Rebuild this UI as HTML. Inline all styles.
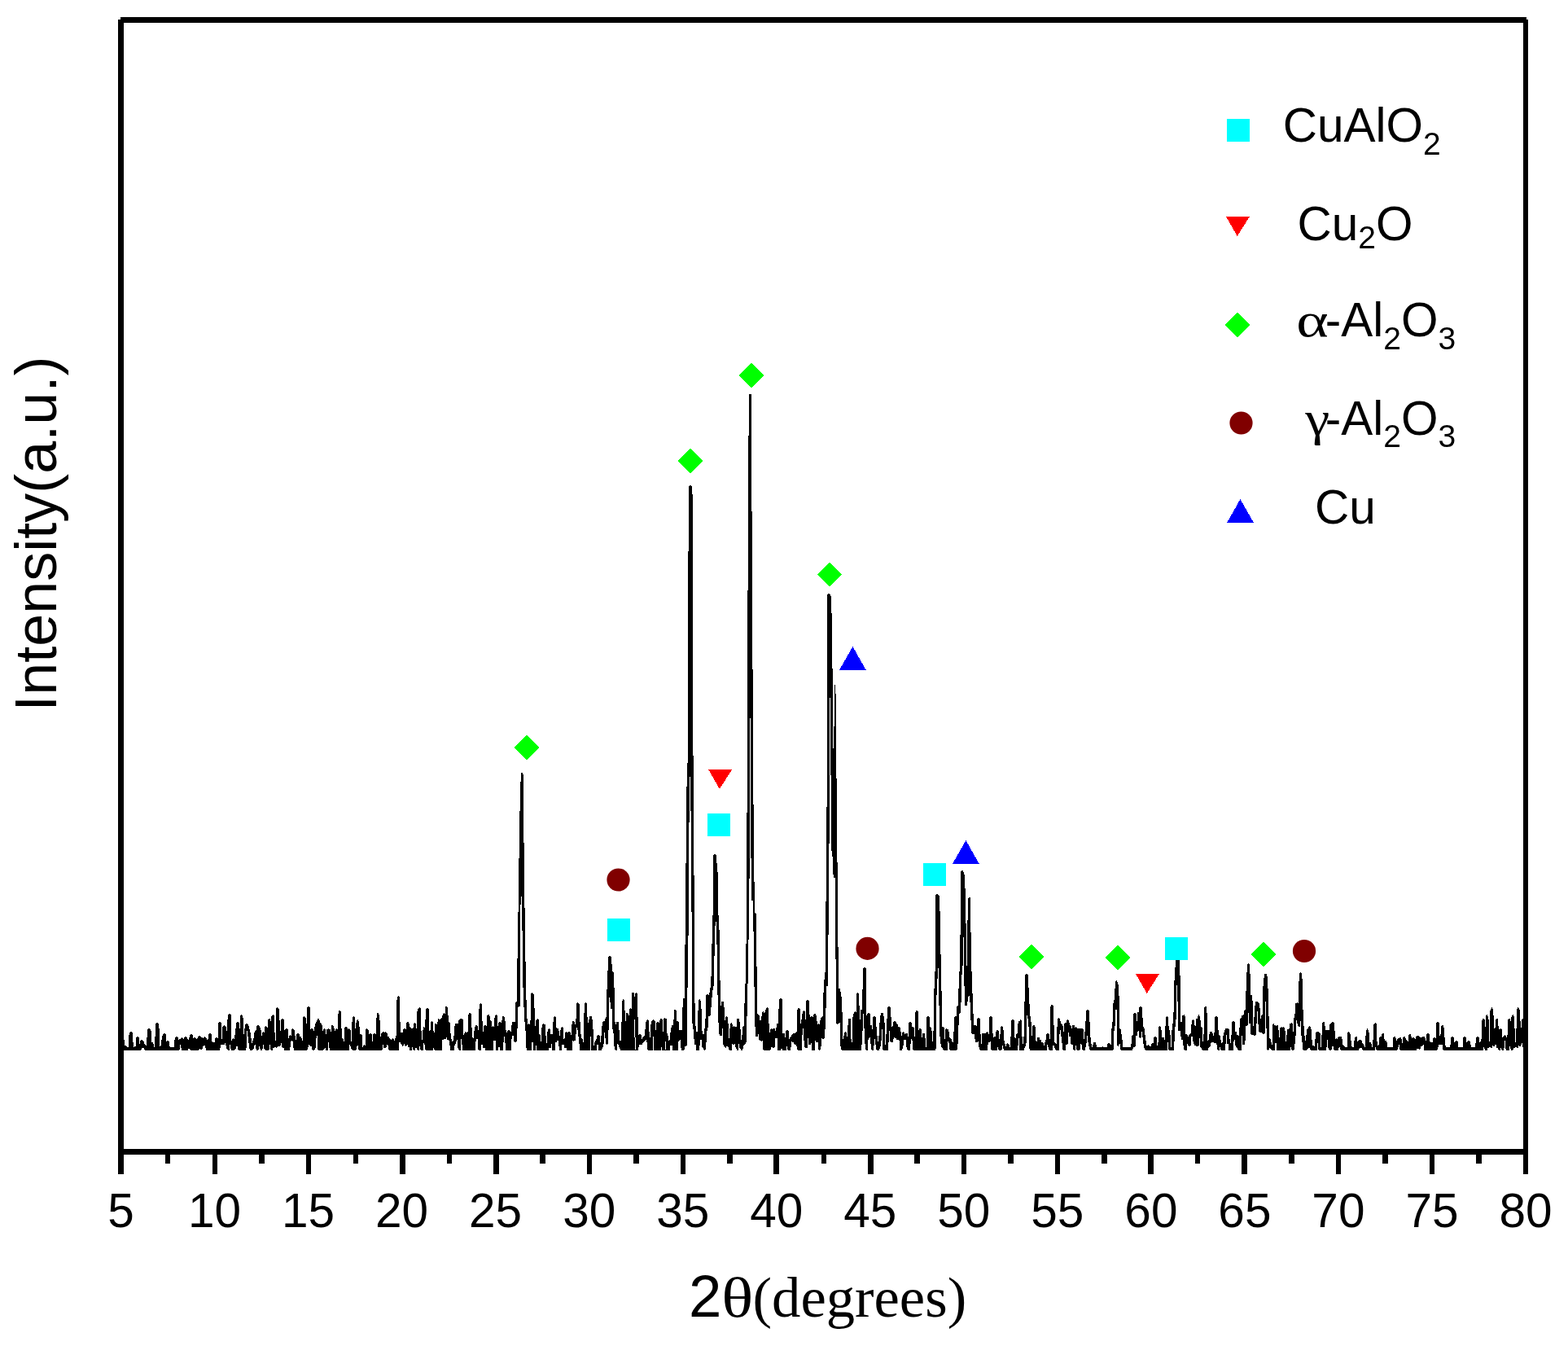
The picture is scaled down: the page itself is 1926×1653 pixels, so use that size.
<!DOCTYPE html>
<html lang="en"><head><meta charset="utf-8"><title>XRD pattern</title>
<style>html,body{margin:0;padding:0;background:#fff;}body{width:1926px;height:1653px;overflow:hidden;}svg{display:block;}text{font-family:"Liberation Sans",sans-serif;fill:#000;}.tk{font-size:58.5px;text-anchor:middle;}.lg{font-size:58.5px;}.sub{font-size:39px;}.sy{font-family:"Liberation Serif",serif;}</style></head><body>
<svg width="1926" height="1653" viewBox="0 0 1926 1653" shape-rendering="crispEdges">
<rect x="0" y="0" width="1926" height="1653" fill="#fff"/>
<path d="M149.3,1290.0L149.3,1277.0L152.8,1277.0L153.4,1284.2L155.0,1284.2L156.3,1286.0L157.9,1286.0L158.6,1268.5L160.0,1267.0L161.2,1267.0L162.6,1268.5L164.0,1286.0L166.5,1284.8L167.0,1274.5L168.4,1273.0L169.6,1273.0L171.0,1274.5L171.5,1282.0L172.3,1278.5L173.7,1277.0L174.9,1277.0L176.3,1278.5L177.4,1281.4L179.6,1284.2L181.4,1264.5L182.8,1263.0L184.0,1263.0L185.4,1264.5L186.4,1280.1L188.3,1280.4L189.3,1286.0L189.8,1286.0L191.3,1257.5L192.7,1256.0L193.9,1256.0L195.3,1257.5L196.3,1285.1L197.6,1284.2L198.9,1273.5L200.0,1270.5L201.4,1269.0L202.6,1269.0L203.9,1270.5L204.4,1278.9L204.9,1279.6L205.6,1278.1L206.8,1278.1L207.7,1279.6L208.2,1285.1L209.2,1286.0L214.1,1286.0L214.6,1274.6L216.0,1273.1L217.2,1273.1L218.6,1274.6L219.3,1276.8L221.5,1275.7L222.9,1274.2L224.1,1274.2L225.4,1275.7L225.9,1276.8L226.4,1274.6L227.3,1273.1L228.5,1273.1L229.9,1274.6L231.6,1277.2L233.0,1271.5L234.4,1270.0L235.6,1270.0L236.7,1271.5L237.2,1275.1L237.7,1275.6L238.5,1274.1L239.7,1274.1L241.1,1275.6L242.2,1275.6L243.3,1273.5L244.7,1272.0L245.9,1272.0L247.3,1273.5L248.7,1274.1L249.5,1274.6L250.9,1273.1L252.1,1273.1L253.5,1274.6L255.3,1278.3L256.1,1270.5L257.5,1269.0L258.7,1269.0L259.8,1270.5L260.3,1278.8L262.1,1279.9L263.8,1279.9L264.3,1275.6L265.3,1274.1L266.5,1274.1L267.1,1275.6L267.6,1274.8L268.1,1256.6L269.3,1255.1L270.5,1255.1L271.9,1256.6L272.4,1277.9L273.5,1260.6L274.9,1259.1L276.1,1259.1L277.5,1260.6L278.3,1268.8L279.9,1246.5L281.3,1245.0L282.5,1245.0L283.9,1246.5L284.5,1277.9L285.0,1276.6L285.8,1275.1L287.0,1275.1L287.2,1276.6L287.7,1276.0L288.9,1269.2L290.1,1256.6L291.5,1255.1L292.7,1255.1L293.9,1256.6L294.4,1267.9L294.9,1247.6L295.8,1246.1L297.0,1246.1L298.4,1247.6L299.4,1270.7L300.8,1261.4L301.3,1258.5L302.7,1257.0L303.9,1257.0L305.3,1258.5L305.8,1261.7L307.0,1265.4L307.9,1269.8L308.8,1277.3L309.5,1281.0L310.7,1277.6L311.8,1274.1L312.6,1267.0L314.5,1265.1L315.0,1260.6L316.4,1259.1L317.6,1259.1L319.0,1260.6L319.7,1262.3L320.6,1265.4L321.5,1272.0L322.0,1268.7L322.9,1267.2L324.1,1267.2L324.3,1268.7L324.8,1267.9L325.3,1261.6L325.7,1260.1L326.9,1260.1L328.1,1261.6L328.6,1262.0L329.1,1252.6L330.3,1251.1L331.5,1251.1L331.9,1252.6L332.4,1254.8L333.5,1247.6L334.9,1246.1L336.1,1246.1L337.0,1247.6L337.5,1267.9L338.5,1278.8L339.0,1238.6L339.9,1237.1L341.1,1237.1L342.5,1238.6L343.5,1253.3L344.6,1267.0L345.2,1252.6L346.6,1251.1L347.8,1251.1L349.0,1252.6L349.5,1265.1L350.0,1264.7L351.3,1263.2L352.5,1263.2L353.9,1264.7L354.5,1275.1L355.0,1272.5L355.8,1271.0L357.0,1271.0L357.5,1272.3L358.0,1264.7L358.9,1263.2L360.1,1263.2L361.5,1264.7L362.1,1268.2L363.4,1278.8L364.0,1270.7L365.4,1269.2L366.6,1269.2L367.9,1270.7L368.4,1272.9L370.3,1273.8L371.5,1278.8L372.0,1249.6L373.0,1248.1L374.2,1248.1L375.1,1249.6L375.6,1250.2L376.4,1262.9L376.9,1237.5L378.3,1236.0L379.5,1236.0L380.9,1237.5L381.5,1263.9L382.0,1264.6L382.5,1263.1L383.7,1263.1L384.9,1264.6L385.4,1267.0L386.8,1259.2L387.7,1256.1L389.3,1253.0L389.8,1252.6L390.4,1251.1L391.6,1251.1L392.5,1252.6L393.0,1255.8L394.6,1257.3L395.6,1259.2L396.4,1266.0L396.9,1264.6L397.9,1263.1L399.1,1263.1L400.0,1264.6L400.5,1269.8L401.4,1264.2L401.9,1264.6L402.9,1263.1L404.1,1263.1L405.3,1264.6L405.8,1264.2L406.6,1267.0L407.1,1260.6L407.5,1259.1L408.7,1259.1L409.3,1260.6L409.8,1260.1L410.6,1262.9L411.4,1267.0L411.9,1264.6L412.9,1263.1L414.1,1263.1L414.2,1264.6L414.7,1263.9L415.3,1246.1L415.8,1242.5L416.8,1241.0L418.0,1241.0L418.7,1242.5L419.2,1257.0L420.1,1274.8L421.7,1276.3L422.5,1278.8L423.0,1262.4L423.9,1260.9L425.1,1260.9L426.5,1262.4L427.3,1264.2L427.8,1264.6L427.9,1263.1L429.1,1263.1L430.2,1264.6L430.7,1265.4L431.5,1279.8L432.3,1259.2L432.8,1249.5L433.9,1248.0L435.1,1248.0L436.0,1249.5L436.5,1262.9L437.6,1255.1L438.1,1253.5L438.8,1252.0L440.0,1252.0L440.5,1253.5L441.0,1253.3L441.7,1263.2L442.2,1270.1L443.8,1270.4L444.9,1271.3L445.4,1286.0L445.9,1284.5L446.9,1283.0L448.1,1283.0L448.5,1284.1L449.2,1264.2L449.7,1264.6L449.9,1263.1L451.1,1263.1L452.3,1264.6L452.8,1265.4L453.5,1270.1L454.0,1270.5L454.4,1269.0L455.6,1269.0L456.2,1270.5L456.7,1270.1L457.5,1278.8L458.4,1270.1L458.9,1270.5L459.4,1269.0L460.6,1269.0L461.1,1270.5L461.6,1270.1L462.2,1257.0L462.7,1245.5L463.4,1244.0L464.6,1244.0L465.4,1245.5L465.9,1245.5L466.9,1258.3L467.5,1272.9L468.7,1268.8L469.5,1268.5L470.9,1267.0L472.1,1267.0L473.0,1268.5L473.0,1268.5L473.0,1267.0L474.1,1267.0L475.3,1268.5L475.8,1269.2L476.2,1272.9L477.8,1273.2L480.3,1277.9L480.8,1276.6L481.9,1275.1L483.1,1275.1L484.0,1276.6L484.5,1277.9L486.5,1272.9L487.3,1231.2L487.8,1224.6L488.9,1223.1L490.1,1223.1L490.8,1224.6L491.3,1251.1L492.1,1267.9L494.9,1267.9L495.4,1264.6L496.3,1263.1L497.5,1263.1L498.3,1264.6L498.8,1263.9L499.3,1256.5L500.4,1255.0L501.6,1255.0L502.5,1256.5L503.0,1260.7L505.8,1263.1L507.8,1262.0L508.3,1257.6L509.0,1256.1L510.2,1256.1L510.9,1257.6L511.4,1265.7L512.4,1242.4L513.5,1238.6L514.9,1237.1L516.1,1237.1L516.7,1238.6L517.2,1257.9L518.0,1276.9L519.1,1276.9L519.6,1262.6L520.0,1261.1L521.2,1261.1L521.8,1262.6L522.3,1261.7L522.8,1239.5L523.9,1238.0L525.1,1238.0L526.5,1239.5L527.0,1267.0L528.6,1264.8L529.1,1255.6L529.7,1254.1L530.9,1254.1L531.7,1255.6L532.2,1264.2L533.4,1270.7L533.9,1258.5L534.8,1257.0L536.0,1257.0L536.7,1258.5L537.2,1256.1L538.3,1251.1L540.4,1252.0L542.6,1249.8L544.1,1245.8L545.1,1244.1L546.8,1244.9L547.3,1237.5L547.6,1236.0L548.8,1236.0L549.9,1237.5L550.4,1246.1L551.1,1255.0L552.9,1256.3L553.5,1269.0L554.4,1276.0L555.5,1279.0L557.2,1277.1L558.2,1261.1L559.3,1257.0L562.8,1257.0L563.3,1253.1L565.3,1251.2L567.5,1251.2L568.9,1252.6L569.4,1270.9L570.2,1268.5L570.7,1268.5L571.0,1267.0L572.2,1267.0L572.3,1268.5L572.8,1267.9L575.0,1267.0L575.5,1245.5L576.4,1244.0L577.6,1244.0L578.7,1245.5L579.2,1256.1L580.2,1273.8L581.5,1275.1L582.3,1267.2L583.3,1261.1L583.8,1260.6L584.5,1259.1L585.7,1259.1L586.4,1260.6L586.9,1260.1L587.2,1265.1L588.0,1265.1L588.2,1239.1L589.2,1238.9L589.3,1233.0L589.9,1231.9L591.1,1231.9L591.5,1233.4L592.0,1233.3L592.1,1253.9L592.9,1254.2L593.1,1267.2L594.0,1267.2L594.3,1260.1L594.8,1260.4L595.3,1258.9L596.5,1258.9L597.3,1260.4L597.8,1260.1L598.2,1247.4L598.7,1247.5L599.0,1246.0L600.2,1246.0L601.3,1247.5L601.8,1248.0L602.0,1253.0L603.7,1254.2L604.0,1261.1L604.5,1261.4L604.8,1259.9L606.0,1259.9L606.3,1261.4L606.8,1261.1L607.1,1250.2L608.0,1249.8L608.2,1247.0L608.7,1247.5L608.9,1246.0L610.1,1246.0L610.3,1247.5L610.8,1247.4L611.0,1260.1L612.0,1260.1L612.2,1256.3L612.7,1256.5L613.4,1255.0L614.6,1255.0L615.3,1256.5L615.8,1256.1L616.1,1253.1L617.1,1253.0L617.2,1248.9L617.5,1248.0L618.7,1248.0L619.4,1249.5L619.9,1249.2L620.1,1254.1L620.8,1254.2L621.0,1265.1L621.9,1265.3L622.2,1268.0L623.0,1268.0L623.3,1266.0L623.8,1266.5L624.4,1265.0L625.6,1265.0L626.2,1266.5L626.7,1266.0L627.7,1267.2L628.1,1259.2L629.1,1258.9L629.2,1255.1L633.0,1255.1L633.1,1231.2L634.8,1229.9L635.1,1229.0L635.1,1200.0L636.0,1150.0L637.0,1090.0L638.0,1020.0L639.2,965.0L640.0,952.0L640.4,949.0L641.6,949.0L642.8,952.0L642.9,1003.0L643.8,1050.0L644.9,1150.0L645.9,1200.0L646.0,1228.0L646.9,1228.3L647.1,1251.1L647.8,1251.2L648.0,1257.9L648.5,1258.5L648.9,1257.0L650.1,1257.0L650.4,1258.5L650.9,1258.3L651.2,1253.1L652.0,1253.0L652.1,1220.1L652.6,1220.5L652.9,1219.0L654.1,1219.0L655.2,1220.5L655.7,1221.2L655.9,1237.9L656.6,1238.1L656.9,1260.1L657.9,1260.1L658.2,1253.1L659.1,1253.0L659.3,1252.0L659.8,1251.1L661.0,1251.1L661.3,1252.6L661.8,1252.3L662.1,1269.8L663.7,1271.3L664.0,1279.1L664.9,1279.1L665.2,1262.0L666.0,1261.9L666.2,1258.3L666.7,1258.5L666.9,1257.0L668.1,1257.0L669.2,1258.5L669.7,1258.3L670.0,1272.0L670.8,1272.3L671.1,1281.0L671.9,1281.0L672.2,1267.2L673.0,1267.0L673.3,1264.2L673.8,1264.6L673.9,1263.1L675.1,1263.1L675.3,1264.6L675.8,1264.2L676.1,1270.1L678.9,1270.1L679.2,1255.0L680.0,1254.8L680.2,1249.2L680.7,1249.5L681.0,1248.0L682.2,1248.0L682.3,1249.5L682.8,1249.2L683.1,1262.0L684.7,1263.2L685.8,1263.2L686.0,1266.0L686.9,1266.2L687.2,1272.3L688.0,1272.3L688.2,1265.1L689.0,1265.0L689.2,1262.2L689.7,1262.6L689.9,1261.1L691.1,1261.1L691.3,1262.6L691.8,1262.2L692.0,1276.0L693.1,1275.9L694.0,1274.8L694.2,1268.2L694.7,1268.5L695.0,1267.0L696.2,1267.0L696.7,1268.5L697.2,1267.9L697.7,1268.5L698.4,1267.0L699.6,1267.0L700.4,1268.5L700.9,1268.2L701.2,1271.0L702.0,1271.0L702.3,1258.3L703.1,1257.9L703.3,1254.8L703.7,1254.0L704.9,1254.0L705.2,1255.5L705.7,1255.1L706.0,1258.3L706.8,1258.3L707.1,1251.2L708.1,1251.1L708.3,1232.1L708.8,1232.5L708.9,1231.0L710.1,1231.0L711.3,1232.5L711.8,1233.3L712.0,1254.8L712.7,1255.1L713.1,1270.0L713.9,1270.2L714.2,1274.8L715.7,1276.1L716.0,1279.9L716.9,1279.9L717.1,1244.2L718.0,1243.9L718.2,1232.1L718.7,1232.5L718.9,1231.0L720.1,1231.0L720.3,1232.5L720.8,1232.1L721.0,1248.9L721.9,1249.2L722.1,1256.1L723.0,1256.1L723.3,1252.2L724.0,1252.0L724.1,1248.0L726.9,1248.0L727.2,1252.0L727.9,1252.3L728.1,1264.0L728.9,1264.2L729.1,1283.8L730.0,1284.1L730.3,1280.4L731.1,1278.2L733.0,1275.9L733.2,1272.1L733.7,1272.5L734.3,1271.0L735.5,1271.0L736.2,1272.5L736.7,1272.3L737.0,1279.9L737.9,1279.9L738.2,1272.3L739.0,1272.0L739.2,1260.1L740.0,1259.8L740.3,1255.1L741.1,1254.2L743.0,1254.1L743.1,1251.2L744.1,1249.8L744.8,1248.9L745.1,1215.0L746.1,1214.8L746.3,1214.0L746.3,1200.0L746.3,1192.0L747.0,1192.0L747.0,1175.2L748.2,1174.0L749.8,1174.0L751.0,1175.2L751.0,1184.0L752.0,1184.0L752.0,1193.0L753.0,1193.3L753.9,1194.5L753.9,1213.0L754.8,1213.3L755.1,1255.0L755.7,1255.1L756.0,1257.9L756.9,1257.9L757.2,1255.0L759.8,1255.0L760.1,1265.1L760.8,1265.3L761.2,1277.9L762.9,1277.9L763.2,1255.1L764.0,1255.0L764.1,1228.2L764.6,1228.6L764.9,1227.1L766.1,1227.1L766.3,1228.6L766.8,1228.3L767.1,1241.0L767.8,1241.1L768.1,1253.9L768.9,1253.9L769.3,1244.2L770.7,1244.1L771.6,1245.2L772.2,1247.0L772.9,1247.0L773.2,1239.1L773.7,1239.5L773.8,1238.0L775.0,1238.0L775.2,1239.1L776.0,1238.9L776.2,1219.2L778.7,1219.2L778.9,1224.0L779.9,1224.0L780.2,1220.1L780.7,1220.5L780.9,1219.0L782.1,1219.0L782.3,1220.5L782.8,1220.2L783.0,1248.9L783.9,1249.2L784.1,1271.0L785.0,1271.0L785.5,1270.1L786.7,1270.1L787.2,1271.6L787.7,1271.0L788.0,1276.0L788.8,1276.1L789.4,1274.1L791.9,1272.0L792.2,1264.2L792.9,1264.0L793.2,1255.1L793.9,1254.2L794.4,1253.5L794.9,1252.0L796.1,1252.0L796.2,1253.5L796.7,1253.3L797.0,1267.0L797.8,1267.2L798.1,1274.1L798.8,1274.1L799.0,1258.3L800.0,1257.9L800.3,1254.2L800.8,1253.5L801.9,1252.0L803.1,1252.0L804.1,1253.5L804.6,1254.2L805.0,1265.1L805.9,1265.1L806.2,1256.1L806.7,1256.5L807.2,1255.0L808.4,1255.0L809.2,1256.5L809.7,1256.1L810.0,1252.3L810.5,1252.6L811.2,1251.1L812.4,1251.1L813.2,1252.6L813.7,1252.3L814.0,1267.0L815.0,1267.0L815.3,1251.2L815.8,1251.5L815.9,1250.0L817.1,1250.0L818.2,1251.5L818.7,1251.2L819.0,1268.8L819.8,1269.2L820.1,1272.1L820.9,1272.3L821.2,1277.9L821.8,1277.9L822.9,1276.9L823.2,1268.2L824.0,1267.9L824.2,1262.2L824.9,1262.0L825.1,1259.2L826.9,1259.1L827.1,1252.0L828.0,1251.8L828.2,1240.2L829.6,1240.2L830.8,1241.1L831.0,1254.1L832.7,1254.2L834.0,1255.1L834.1,1265.1L837.9,1265.1L838.1,1237.3L838.9,1237.1L839.1,1226.2L841.0,1226.0L841.1,1225.0L841.1,1190.0L842.0,1125.0L843.2,975.0L844.4,942.0L845.2,905.0L845.2,678.0L846.3,676.0L846.3,598.0L847.0,596.0L848.4,596.0L849.6,597.5L849.8,606.0L851.0,607.0L851.0,927.0L851.9,928.0L851.9,1074.0L853.0,1075.0L853.0,1232.0L853.9,1232.3L854.1,1260.1L855.0,1260.3L855.1,1267.0L857.0,1267.0L857.2,1241.1L858.1,1240.8L858.3,1228.2L858.8,1228.6L858.9,1227.1L860.1,1227.1L860.4,1228.6L860.9,1228.3L861.1,1239.1L861.9,1239.4L862.1,1266.0L862.9,1266.2L863.2,1270.0L865.0,1270.0L865.2,1263.2L866.0,1262.9L866.2,1251.2L867.0,1251.0L867.2,1222.4L868.5,1221.2L869.8,1221.2L870.6,1222.1L871.2,1219.3L872.0,1219.0L872.1,1213.1L873.4,1213.0L873.4,1212.0L873.4,1199.0L874.1,1198.0L874.1,1159.0L875.2,1158.0L875.2,1124.0L876.2,1123.0L876.2,1051.0L877.2,1048.7L878.5,1048.7L879.8,1051.0L879.8,1059.0L880.8,1060.0L880.8,1070.0L881.9,1071.0L881.9,1123.0L882.8,1124.0L882.8,1141.0L883.8,1142.0L883.8,1204.0L884.9,1204.4L885.0,1235.2L886.0,1235.2L886.3,1230.2L888.8,1230.2L889.0,1237.2L889.8,1237.4L890.0,1253.1L891.0,1253.1L891.3,1249.2L891.8,1249.5L891.9,1248.0L893.1,1248.0L893.4,1249.5L893.9,1249.2L894.1,1257.0L894.8,1257.2L895.0,1275.1L896.0,1275.1L896.3,1263.2L897.0,1262.9L897.2,1257.2L897.7,1257.6L897.8,1256.1L899.0,1256.1L899.4,1257.6L899.9,1257.2L900.1,1261.1L900.9,1260.9L901.6,1260.1L902.5,1261.1L905.1,1261.1L905.3,1251.1L907.8,1251.1L908.1,1255.0L908.8,1255.3L909.0,1264.0L909.8,1264.2L910.0,1276.9L910.9,1276.9L911.2,1271.0L912.0,1270.8L912.1,1261.4L913.1,1260.7L913.9,1260.1L914.1,1232.3L915.0,1232.1L917.2,1126.0L917.2,998.0L918.1,997.0L918.1,725.0L919.2,724.0L919.2,535.0L920.1,534.0L920.1,484.0L923.0,484.0L923.0,628.0L924.0,629.0L924.0,822.0L925.0,823.0L925.0,988.0L926.0,989.0L926.0,1083.0L927.4,1084.0L927.4,1121.0L928.7,1122.0L928.7,1186.0L929.9,1187.0L929.9,1244.9L931.5,1246.4L932.7,1247.7L932.9,1252.0L934.0,1253.0L934.9,1253.0L935.1,1248.0L936.0,1247.7L936.2,1243.3L936.7,1243.6L937.1,1242.1L938.3,1242.1L938.5,1243.6L939.0,1243.0L939.9,1243.0L940.1,1240.4L941.0,1240.2L941.2,1238.3L941.7,1238.6L941.8,1237.1L943.0,1237.1L943.3,1238.6L943.8,1238.3L944.0,1257.0L944.8,1257.2L945.0,1267.9L946.0,1267.9L946.3,1264.2L946.8,1263.1L948.0,1263.1L948.3,1264.0L949.3,1263.1L951.7,1263.1L952.1,1266.0L952.9,1266.0L953.1,1262.0L953.9,1261.9L954.1,1257.2L955.0,1257.0L956.0,1256.1L956.1,1239.3L956.9,1238.9L957.2,1227.1L957.7,1227.4L958.3,1225.9L959.5,1225.9L960.3,1227.4L960.8,1227.4L961.0,1268.8L963.7,1269.0L964.0,1274.1L964.8,1274.1L965.1,1266.0L965.6,1266.5L966.2,1265.0L967.4,1265.0L968.2,1266.5L968.7,1266.2L968.9,1276.0L969.7,1276.0L971.4,1272.9L974.2,1269.0L976.7,1268.8L978.8,1267.0L979.0,1239.1L979.5,1239.5L980.3,1238.0L981.5,1238.0L982.3,1239.5L982.8,1239.3L983.0,1257.0L984.0,1257.0L984.1,1252.2L985.1,1252.0L985.3,1245.2L986.0,1245.0L986.2,1242.1L986.7,1242.5L986.8,1241.0L988.0,1241.0L988.3,1242.5L988.8,1242.4L989.0,1252.0L989.9,1252.0L990.1,1229.3L990.6,1229.5L991.3,1228.0L992.5,1228.0L993.3,1229.5L993.8,1229.3L994.0,1246.1L994.9,1246.2L995.0,1249.2L996.0,1248.2L997.7,1248.2L998.5,1249.2L999.1,1248.9L999.2,1246.1L999.7,1246.5L1000.4,1245.0L1001.6,1245.0L1002.5,1246.5L1003.0,1246.2L1003.1,1254.1L1003.9,1254.2L1004.1,1258.3L1004.7,1258.3L1005.3,1257.0L1006.3,1258.3L1006.9,1257.9L1007.1,1253.1L1007.9,1253.0L1008.1,1250.2L1009.7,1248.9L1010.9,1247.7L1011.1,1219.3L1012.0,1219.0L1012.2,1203.1L1013.0,1202.8L1013.1,1202.0L1013.1,1194.0L1014.2,1193.0L1014.2,1107.0L1015.3,1106.0L1015.3,991.0L1016.2,990.0L1016.2,731.0L1017.0,729.4L1018.4,729.4L1020.0,731.0L1020.7,733.0L1020.7,752.0L1021.8,753.0L1021.8,820.0L1022.8,821.0L1022.8,919.0L1024.2,919.0L1024.2,892.0L1025.2,891.0L1025.2,842.0L1026.4,839.8L1030.0,1214.0L1031.8,1214.2L1032.0,1218.1L1032.9,1218.3L1033.1,1224.0L1033.8,1224.2L1034.0,1243.0L1034.8,1243.2L1035.0,1276.0L1035.9,1276.0L1036.2,1272.3L1036.9,1272.0L1037.1,1268.2L1037.6,1268.5L1037.8,1267.0L1039.0,1267.0L1039.3,1268.5L1039.8,1268.2L1040.1,1272.9L1040.9,1272.9L1041.1,1259.2L1041.9,1258.9L1042.1,1251.1L1044.9,1251.1L1045.1,1275.9L1045.9,1276.1L1046.0,1279.9L1046.9,1279.9L1047.1,1249.2L1048.0,1248.9L1048.2,1245.2L1049.0,1244.9L1049.2,1243.3L1049.7,1243.6L1049.8,1242.1L1051.0,1242.1L1051.2,1243.0L1051.9,1243.0L1052.1,1220.2L1052.6,1220.5L1052.9,1219.0L1054.1,1219.0L1054.4,1220.5L1054.9,1220.2L1055.1,1235.2L1056.0,1235.4L1056.1,1252.0L1057.1,1252.0L1057.3,1240.2L1058.9,1240.0L1059.1,1215.1L1060.0,1215.0L1060.0,1200.0L1060.0,1189.5L1061.3,1188.0L1062.7,1188.0L1064.0,1189.5L1064.0,1200.0L1064.1,1247.0L1064.9,1247.0L1065.2,1245.2L1065.7,1245.5L1066.4,1244.0L1067.6,1244.0L1068.3,1245.5L1068.8,1245.2L1069.0,1259.1L1070.8,1259.2L1071.0,1264.0L1072.0,1264.0L1072.2,1249.2L1072.7,1249.5L1073.5,1248.0L1074.7,1248.0L1075.3,1249.5L1075.8,1249.2L1076.0,1261.1L1076.8,1261.2L1077.0,1272.1L1077.8,1272.3L1077.9,1279.1L1078.9,1279.1L1079.2,1272.3L1080.0,1272.0L1080.2,1256.1L1081.1,1255.9L1081.2,1247.2L1082.0,1247.0L1082.2,1244.1L1084.8,1244.1L1085.0,1248.0L1085.9,1248.2L1086.0,1256.1L1086.9,1256.3L1087.0,1282.9L1088.0,1282.9L1088.2,1270.1L1089.0,1269.9L1089.2,1251.1L1090.0,1251.0L1090.2,1237.2L1090.7,1237.5L1091.4,1236.0L1092.6,1236.0L1093.3,1237.5L1093.8,1237.3L1094.0,1249.2L1094.8,1249.4L1095.0,1261.1L1096.0,1260.9L1096.9,1260.0L1097.1,1255.1L1097.6,1255.5L1098.4,1254.0L1099.6,1254.0L1100.2,1255.5L1100.7,1255.1L1101.0,1257.0L1102.9,1258.3L1103.1,1261.1L1105.0,1261.4L1106.0,1262.3L1106.2,1267.0L1106.9,1267.2L1107.1,1272.1L1108.0,1272.1L1108.2,1268.2L1108.7,1268.5L1108.9,1267.0L1110.1,1267.0L1110.7,1268.2L1111.2,1270.0L1112.2,1269.0L1114.7,1269.0L1114.9,1272.9L1116.0,1272.9L1116.1,1256.3L1116.6,1256.5L1117.4,1255.0L1118.6,1255.0L1119.4,1256.5L1119.9,1256.4L1120.1,1261.1L1121.6,1261.2L1122.7,1262.2L1122.9,1272.9L1123.9,1272.9L1124.0,1242.4L1124.5,1242.5L1125.4,1241.0L1126.6,1241.0L1127.3,1242.5L1127.8,1242.4L1128.0,1264.0L1128.5,1264.6L1129.4,1263.1L1130.6,1263.1L1131.3,1264.6L1131.8,1264.2L1132.0,1274.0L1133.1,1274.0L1133.3,1269.0L1135.8,1269.0L1136.0,1275.1L1136.9,1275.3L1137.0,1286.0L1138.0,1286.0L1138.1,1249.2L1138.6,1249.5L1139.4,1248.0L1140.6,1248.0L1141.3,1249.5L1141.8,1249.2L1142.0,1261.1L1143.7,1262.3L1144.0,1266.0L1144.8,1266.2L1145.0,1279.1L1146.0,1279.1L1146.2,1266.2L1146.9,1265.9L1147.1,1214.2L1147.9,1214.0L1148.0,1213.0L1148.0,1194.0L1148.9,1193.0L1148.9,1100.0L1150.1,1097.9L1151.4,1097.9L1153.0,1099.5L1154.0,1101.0L1154.0,1119.0L1155.0,1120.0L1155.0,1172.0L1156.0,1173.0L1156.0,1216.0L1156.9,1217.1L1157.1,1261.1L1158.7,1261.1L1159.9,1262.3L1160.1,1276.0L1161.0,1276.0L1161.2,1264.2L1161.7,1264.6L1161.8,1263.1L1163.0,1263.1L1163.0,1264.0L1164.8,1264.0L1165.0,1267.0L1165.8,1267.2L1166.0,1274.0L1167.4,1275.1L1168.9,1276.3L1169.1,1279.1L1170.1,1279.9L1170.9,1279.9L1171.0,1267.2L1171.9,1267.0L1172.1,1249.2L1173.6,1248.1L1175.0,1248.0L1175.2,1236.1L1176.9,1234.9L1177.0,1214.2L1177.9,1214.0L1178.1,1213.0L1178.1,1193.0L1179.1,1192.0L1179.1,1148.0L1180.1,1147.0L1180.1,1070.5L1181.0,1068.9L1182.2,1068.9L1183.2,1070.5L1184.0,1073.0L1184.9,1075.0L1184.9,1090.0L1186.0,1091.0L1186.0,1134.0L1187.0,1135.0L1187.0,1186.0L1188.1,1186.0L1188.1,1130.0L1189.2,1129.0L1189.2,1103.5L1190.1,1101.9L1191.3,1101.9L1192.2,1103.5L1192.2,1145.0L1193.1,1146.0L1193.1,1193.0L1194.0,1194.0L1194.0,1219.0L1195.0,1220.2L1195.2,1245.0L1195.9,1245.2L1196.2,1259.1L1198.5,1259.1L1199.2,1260.1L1199.9,1260.1L1200.1,1251.2L1200.6,1251.5L1201.4,1250.0L1202.6,1250.0L1203.3,1251.5L1203.8,1251.2L1204.0,1270.1L1204.8,1270.3L1205.0,1281.9L1205.9,1281.9L1206.0,1269.0L1210.8,1269.0L1211.6,1267.9L1212.0,1267.0L1213.2,1267.0L1213.3,1268.5L1213.8,1268.2L1214.1,1270.1L1215.0,1270.1L1215.2,1249.2L1215.7,1249.5L1216.4,1248.0L1217.6,1248.0L1218.4,1249.5L1218.9,1249.2L1219.1,1269.0L1219.8,1269.2L1220.0,1274.0L1220.8,1274.0L1221.3,1273.0L1222.8,1273.0L1223.0,1266.2L1223.5,1266.6L1224.3,1265.1L1225.5,1265.1L1226.3,1266.6L1226.8,1266.2L1226.9,1276.0L1227.8,1276.0L1228.1,1270.1L1228.9,1269.9L1229.1,1261.2L1229.6,1261.5L1229.8,1260.0L1231.0,1260.0L1231.2,1261.5L1231.7,1261.2L1231.9,1265.1L1232.7,1265.3L1232.9,1277.9L1233.7,1278.1L1233.9,1281.9L1234.8,1282.1L1235.0,1285.0L1235.9,1285.0L1236.1,1282.2L1236.6,1282.5L1236.9,1281.0L1238.1,1281.0L1238.2,1282.5L1238.7,1282.2L1239.7,1283.2L1239.8,1286.0L1240.9,1286.0L1241.1,1273.0L1242.0,1272.9L1242.1,1253.1L1242.6,1253.5L1243.4,1252.0L1244.6,1252.0L1245.4,1253.5L1245.9,1253.3L1246.1,1273.8L1246.9,1274.1L1247.8,1275.1L1248.0,1270.1L1249.3,1269.0L1250.0,1268.8L1250.2,1257.2L1250.9,1257.0L1251.1,1254.2L1252.1,1254.0L1252.6,1253.5L1253.0,1252.0L1254.2,1252.0L1254.3,1253.5L1254.8,1253.3L1255.0,1273.0L1255.8,1273.2L1256.0,1281.9L1256.9,1281.9L1257.1,1273.0L1257.9,1272.9L1258.1,1230.2L1259.0,1229.9L1259.3,1228.0L1259.3,1197.5L1260.4,1196.0L1261.8,1196.0L1263.0,1197.5L1263.0,1213.0L1264.0,1213.3L1264.2,1233.0L1264.9,1233.2L1265.1,1248.0L1265.9,1248.2L1266.0,1255.0L1266.9,1255.1L1267.1,1272.1L1268.0,1272.1L1268.2,1260.1L1268.7,1260.6L1269.3,1259.1L1270.5,1259.1L1271.4,1260.6L1271.9,1260.3L1272.1,1277.9L1273.0,1278.8L1274.0,1279.0L1274.1,1274.1L1276.9,1274.1L1277.1,1277.1L1278.9,1277.3L1279.1,1279.9L1280.8,1280.1L1281.7,1281.0L1281.9,1284.1L1283.0,1284.1L1283.2,1280.1L1283.9,1279.9L1284.1,1277.3L1285.0,1277.1L1285.2,1270.1L1285.7,1270.5L1286.4,1269.0L1287.6,1269.0L1288.3,1270.5L1288.8,1270.3L1289.0,1276.0L1289.8,1276.0L1290.0,1235.2L1290.5,1235.5L1291.4,1234.0L1292.6,1234.0L1293.4,1235.5L1293.9,1235.4L1294.1,1258.9L1294.8,1259.1L1295.0,1279.9L1296.1,1280.4L1297.0,1281.9L1297.9,1281.9L1298.1,1261.2L1298.9,1261.1L1299.1,1251.2L1299.6,1251.5L1299.8,1250.0L1301.0,1250.0L1301.3,1251.5L1301.8,1251.2L1302.0,1254.2L1302.8,1254.4L1303.1,1257.0L1304.8,1258.3L1305.7,1260.1L1305.9,1267.0L1307.0,1267.0L1307.2,1257.2L1308.2,1256.3L1309.9,1256.1L1310.1,1253.1L1310.6,1253.5L1310.9,1252.0L1312.1,1252.0L1312.4,1253.5L1312.9,1253.3L1313.1,1256.1L1313.8,1256.3L1314.0,1259.1L1315.7,1260.1L1315.9,1263.2L1316.9,1263.2L1317.1,1259.1L1319.8,1259.1L1319.9,1262.0L1320.7,1262.0L1321.5,1261.1L1323.2,1263.1L1329.7,1263.1L1330.8,1264.2L1331.1,1276.0L1331.9,1276.0L1332.1,1267.2L1333.0,1267.0L1333.1,1254.2L1333.9,1254.1L1334.1,1241.1L1334.6,1241.4L1335.4,1239.9L1336.6,1239.9L1337.3,1241.4L1337.8,1241.2L1338.0,1255.0L1338.9,1255.2L1339.1,1274.0L1340.0,1274.1L1340.2,1282.1L1340.8,1282.2L1341.1,1286.0L1342.0,1286.0L1342.2,1283.2L1343.1,1283.0L1343.3,1280.1L1345.8,1280.1L1346.0,1283.0L1346.9,1283.2L1347.0,1286.2L1353.7,1286.2L1354.5,1285.0L1355.3,1286.2L1360.0,1286.2L1360.2,1282.1L1360.7,1282.5L1361.2,1281.0L1362.4,1281.0L1362.9,1282.5L1363.4,1282.1L1364.6,1283.2L1365.0,1263.2L1365.9,1263.1L1366.1,1255.1L1366.8,1255.0L1367.0,1232.3L1367.9,1232.1L1368.1,1228.2L1368.9,1228.0L1369.1,1214.2L1369.9,1214.0L1370.1,1205.3L1370.6,1205.5L1370.9,1204.0L1372.1,1204.0L1372.2,1205.5L1372.7,1205.5L1372.9,1209.2L1373.8,1209.3L1374.0,1223.1L1374.9,1223.2L1375.1,1262.9L1376.8,1264.2L1377.0,1270.1L1377.7,1270.3L1377.9,1277.1L1378.7,1277.3L1378.8,1286.2L1388.9,1286.2L1389.1,1282.1L1389.9,1281.9L1390.1,1272.3L1391.7,1271.0L1392.1,1270.7L1392.2,1245.2L1392.7,1245.5L1393.5,1244.0L1394.7,1244.0L1395.3,1245.5L1395.8,1245.4L1396.0,1254.1L1397.0,1254.1L1397.2,1243.2L1398.9,1243.0L1399.1,1237.3L1399.6,1237.5L1400.4,1236.0L1401.6,1236.0L1402.3,1237.5L1402.8,1237.4L1403.0,1250.0L1403.8,1250.2L1404.0,1261.1L1404.8,1261.4L1405.6,1263.1L1405.8,1271.0L1406.6,1271.2L1406.8,1278.0L1407.8,1278.2L1408.0,1284.1L1409.7,1284.1L1410.4,1283.1L1411.4,1284.1L1412.0,1285.0L1413.9,1285.0L1414.2,1282.1L1415.1,1281.2L1417.0,1281.0L1417.2,1274.0L1417.7,1274.4L1418.4,1272.9L1419.6,1272.9L1420.2,1274.4L1420.7,1274.1L1420.9,1284.1L1422.0,1284.1L1422.1,1280.1L1423.0,1279.9L1423.2,1261.2L1423.7,1261.5L1423.9,1260.0L1425.1,1260.0L1425.3,1261.5L1425.8,1261.2L1426.0,1265.1L1426.8,1265.3L1426.9,1274.1L1429.8,1274.1L1429.9,1277.1L1430.8,1277.1L1431.0,1260.1L1431.9,1260.0L1432.1,1249.2L1432.6,1249.5L1432.9,1248.0L1434.1,1248.0L1434.4,1249.5L1434.9,1249.2L1435.0,1260.1L1436.0,1260.3L1436.2,1265.1L1436.9,1265.3L1437.1,1271.0L1437.9,1271.2L1438.0,1286.2L1438.9,1286.2L1439.1,1265.3L1439.9,1265.1L1440.1,1257.0L1441.1,1256.8L1441.3,1243.2L1442.0,1243.0L1442.2,1204.2L1442.3,1204.0L1443.1,1203.0L1443.1,1188.5L1444.1,1188.0L1444.1,1174.0L1449.0,1174.0L1449.0,1198.0L1450.0,1198.5L1450.0,1254.0L1450.9,1255.1L1451.9,1255.1L1452.1,1247.4L1453.4,1247.2L1453.9,1246.1L1455.1,1246.1L1455.3,1247.6L1455.8,1247.4L1456.0,1270.1L1457.8,1270.3L1458.9,1271.2L1459.2,1272.9L1460.0,1272.9L1460.3,1271.2L1461.8,1269.8L1462.9,1268.8L1463.1,1258.3L1463.9,1258.1L1464.1,1253.1L1464.6,1253.5L1464.9,1252.0L1466.1,1252.0L1466.4,1253.5L1466.9,1253.3L1467.0,1258.9L1468.1,1260.0L1469.0,1260.1L1469.2,1251.2L1470.0,1251.1L1470.9,1250.2L1471.1,1247.2L1471.6,1247.6L1471.9,1246.1L1473.1,1246.1L1473.3,1247.6L1473.8,1247.4L1474.0,1253.0L1474.8,1253.1L1475.0,1261.1L1475.9,1261.2L1476.8,1262.2L1477.0,1278.8L1478.1,1278.8L1478.3,1270.1L1479.0,1269.9L1479.2,1237.3L1479.9,1236.8L1480.9,1236.0L1481.8,1236.1L1482.0,1244.0L1482.9,1244.2L1483.1,1277.9L1484.0,1277.9L1484.9,1276.9L1485.1,1270.1L1486.0,1269.9L1486.2,1267.2L1488.7,1267.2L1489.0,1268.8L1489.8,1269.0L1490.0,1272.1L1491.0,1272.1L1491.2,1268.2L1491.9,1268.0L1492.1,1249.2L1492.6,1249.5L1493.4,1248.0L1494.6,1248.0L1495.3,1249.5L1495.8,1249.2L1496.0,1265.1L1496.9,1265.3L1497.1,1271.0L1498.0,1272.0L1498.9,1272.3L1499.1,1277.1L1499.9,1277.3L1500.1,1281.0L1501.1,1281.0L1501.9,1279.9L1502.1,1272.1L1502.9,1272.0L1503.1,1268.2L1503.9,1268.0L1504.1,1265.1L1504.9,1265.0L1505.2,1263.2L1508.9,1263.2L1509.8,1264.2L1510.0,1275.9L1510.8,1276.1L1511.0,1281.0L1512.0,1281.0L1512.2,1271.0L1513.0,1270.9L1513.1,1255.1L1513.6,1255.5L1514.4,1254.0L1515.6,1254.0L1516.3,1255.5L1516.8,1255.3L1517.0,1267.0L1518.9,1267.2L1519.1,1271.0L1520.7,1271.2L1521.4,1272.1L1522.0,1272.0L1522.2,1262.0L1522.9,1261.8L1523.1,1251.2L1524.8,1250.2L1525.0,1247.2L1526.7,1247.0L1527.9,1246.0L1528.1,1241.1L1529.0,1240.2L1530.1,1239.9L1530.3,1217.1L1530.3,1217.0L1531.0,1216.5L1531.0,1194.5L1532.1,1194.0L1532.1,1184.3L1533.0,1183.1L1534.0,1183.1L1534.9,1184.3L1534.9,1195.5L1535.9,1196.0L1536.0,1222.0L1537.9,1222.0L1538.1,1229.0L1539.0,1229.2L1539.2,1260.1L1540.1,1260.1L1540.2,1249.2L1541.0,1249.1L1541.2,1235.2L1542.1,1235.0L1542.3,1230.2L1544.7,1230.2L1545.7,1231.2L1546.7,1232.3L1546.9,1238.0L1547.9,1238.2L1548.0,1251.2L1549.1,1251.2L1549.3,1247.2L1551.0,1246.0L1551.1,1246.0L1551.1,1211.5L1552.1,1211.0L1552.1,1201.5L1553.0,1201.0L1553.0,1196.0L1555.8,1196.0L1555.8,1199.0L1556.7,1199.3L1556.7,1214.0L1557.8,1214.3L1558.0,1248.0L1558.9,1248.2L1559.1,1274.8L1560.6,1276.0L1560.8,1279.9L1561.7,1280.1L1561.9,1283.2L1562.9,1283.2L1563.1,1258.3L1563.6,1258.5L1563.9,1257.0L1565.1,1257.0L1565.4,1258.5L1565.9,1258.6L1567.2,1260.1L1568.4,1259.1L1569.7,1259.1L1569.8,1265.0L1570.7,1265.1L1570.9,1274.0L1572.0,1274.0L1572.1,1262.2L1573.7,1262.0L1574.3,1261.1L1575.3,1262.0L1576.4,1261.1L1576.5,1261.1L1577.6,1262.2L1577.8,1266.0L1578.7,1266.2L1578.9,1279.0L1580.0,1279.0L1580.2,1271.0L1580.9,1270.9L1581.1,1264.2L1582.8,1264.0L1583.8,1263.1L1584.0,1257.0L1585.6,1257.0L1586.5,1256.1L1587.8,1257.2L1587.9,1267.0L1588.9,1267.0L1589.1,1250.2L1589.9,1249.8L1590.1,1245.2L1591.0,1244.9L1591.2,1232.1L1592.7,1232.0L1593.5,1231.0L1594.3,1232.1L1594.9,1232.0L1595.1,1205.3L1596.0,1205.0L1596.1,1204.0L1596.1,1195.3L1597.0,1193.8L1597.9,1193.8L1599.0,1195.3L1599.0,1202.0L1599.9,1202.4L1600.1,1239.9L1601.0,1240.1L1601.2,1260.0L1602.0,1260.1L1602.1,1272.0L1602.9,1272.1L1603.1,1277.9L1604.0,1277.9L1604.1,1271.0L1605.0,1270.9L1605.2,1264.2L1606.1,1263.2L1607.1,1262.3L1607.3,1261.1L1607.8,1261.5L1607.9,1260.0L1609.1,1260.0L1609.4,1261.5L1609.9,1261.4L1610.1,1264.0L1610.8,1264.2L1611.0,1277.1L1611.9,1277.3L1612.1,1284.1L1613.9,1284.1L1614.9,1285.0L1615.0,1276.1L1615.9,1276.0L1616.1,1268.2L1617.7,1267.2L1619.8,1267.2L1621.7,1269.0L1621.9,1286.2L1623.0,1286.2L1623.1,1271.0L1623.9,1270.9L1624.1,1256.3L1625.5,1255.0L1626.7,1255.1L1626.9,1260.0L1627.9,1260.1L1628.1,1265.1L1632.9,1265.1L1633.1,1258.3L1634.8,1256.4L1636.0,1255.1L1637.6,1255.0L1638.8,1256.3L1639.0,1265.9L1639.8,1266.2L1640.0,1276.0L1641.0,1276.1L1641.7,1275.1L1642.6,1276.1L1643.0,1276.0L1643.2,1274.1L1644.5,1273.0L1647.9,1273.0L1648.1,1275.9L1648.9,1276.1L1649.1,1282.9L1650.1,1283.2L1652.2,1286.0L1654.9,1286.2L1655.0,1268.2L1655.5,1268.5L1655.8,1267.0L1657.0,1267.0L1657.4,1268.5L1657.9,1268.4L1658.0,1270.1L1658.8,1270.3L1659.0,1277.9L1659.8,1278.1L1660.0,1285.0L1661.3,1286.2L1662.8,1286.2L1663.0,1278.2L1663.9,1277.9L1664.1,1274.1L1665.3,1273.0L1666.7,1273.0L1666.9,1279.1L1667.8,1279.1L1669.1,1277.6L1670.0,1277.1L1671.6,1277.1L1672.7,1278.2L1672.9,1281.0L1674.7,1282.2L1674.9,1284.1L1675.8,1284.3L1676.0,1286.2L1676.9,1286.2L1677.0,1272.3L1677.9,1272.0L1678.1,1264.2L1678.6,1264.6L1678.9,1263.1L1680.1,1263.1L1680.3,1264.6L1680.8,1264.4L1681.0,1268.2L1681.8,1268.4L1682.0,1279.9L1683.7,1280.1L1683.9,1282.2L1684.8,1282.4L1685.0,1286.2L1685.9,1286.2L1686.1,1277.3L1687.0,1277.1L1687.2,1258.3L1688.1,1257.2L1688.6,1257.5L1688.9,1256.0L1690.1,1256.0L1690.2,1257.5L1690.7,1257.2L1690.9,1279.0L1691.7,1279.1L1691.9,1284.1L1692.8,1284.1L1693.7,1282.9L1694.0,1274.1L1695.3,1273.0L1696.9,1272.9L1697.1,1270.1L1698.4,1269.0L1699.8,1269.0L1700.0,1275.9L1700.9,1276.1L1701.1,1278.0L1702.7,1278.2L1703.1,1280.1L1703.9,1280.2L1704.0,1286.2L1711.0,1286.2L1711.2,1274.1L1712.4,1273.0L1713.6,1273.0L1714.0,1274.8L1714.8,1275.1L1715.0,1277.9L1716.0,1277.9L1716.3,1276.0L1717.4,1275.1L1718.9,1275.1L1719.6,1274.1L1720.8,1274.1L1721.0,1275.9L1721.7,1276.1L1721.9,1281.0L1723.0,1281.0L1723.2,1274.1L1724.4,1273.0L1725.8,1273.0L1726.1,1275.1L1726.9,1275.3L1727.2,1277.1L1729.2,1279.0L1729.8,1279.1L1730.0,1271.2L1731.4,1270.1L1732.8,1270.1L1733.1,1273.0L1733.9,1273.2L1734.1,1275.1L1734.8,1275.1L1735.5,1274.0L1736.7,1274.0L1737.6,1275.1L1738.3,1276.0L1738.9,1276.0L1739.1,1273.2L1740.1,1272.1L1742.9,1272.1L1744.2,1273.8L1747.0,1274.0L1747.3,1273.0L1749.8,1273.0L1750.1,1275.1L1750.8,1275.3L1751.0,1277.9L1752.0,1277.9L1752.1,1270.3L1753.5,1269.0L1754.5,1269.0L1755.7,1270.3L1755.9,1279.0L1756.6,1279.1L1757.3,1280.1L1759.9,1280.1L1760.1,1275.1L1761.3,1274.0L1762.6,1274.0L1763.2,1275.0L1763.9,1274.8L1764.1,1256.3L1764.6,1256.5L1765.4,1255.0L1766.6,1255.0L1767.4,1256.5L1767.9,1256.4L1768.0,1272.0L1769.0,1272.1L1769.2,1270.1L1769.9,1269.9L1770.1,1260.1L1771.3,1259.1L1772.8,1259.1L1773.0,1262.0L1773.9,1262.2L1774.1,1274.0L1774.8,1274.1L1775.0,1284.1L1776.0,1284.3L1776.1,1286.2L1780.9,1286.2L1781.1,1283.2L1782.0,1283.0L1782.2,1274.1L1783.4,1273.0L1784.7,1273.0L1785.8,1274.1L1786.0,1279.9L1786.9,1280.1L1787.5,1279.0L1788.4,1278.1L1789.7,1278.1L1790.8,1279.1L1791.0,1286.2L1797.0,1286.2L1797.2,1274.1L1798.4,1273.0L1799.7,1273.0L1800.9,1274.3L1801.1,1279.9L1802.0,1280.1L1803.1,1278.2L1804.6,1278.1L1805.9,1279.3L1806.1,1283.1L1806.8,1283.2L1807.0,1286.2L1811.9,1286.2L1812.1,1281.2L1812.9,1281.0L1813.1,1274.1L1814.3,1273.0L1815.5,1273.0L1816.8,1274.3L1817.0,1280.1L1817.7,1279.9L1818.8,1279.0L1819.0,1276.1L1819.9,1275.9L1820.1,1253.1L1820.8,1253.0L1821.0,1251.2L1822.7,1251.1L1823.8,1252.3L1824.0,1260.9L1825.0,1261.1L1825.2,1247.2L1825.7,1247.6L1825.8,1246.1L1827.0,1246.1L1827.3,1247.6L1827.8,1247.4L1828.0,1252.0L1828.8,1252.2L1828.9,1279.0L1829.9,1279.1L1830.1,1241.1L1830.9,1240.8L1831.1,1238.2L1831.6,1238.6L1831.9,1237.1L1833.1,1237.1L1833.4,1238.6L1833.9,1238.3L1834.1,1247.0L1834.9,1247.2L1835.0,1263.1L1835.8,1262.9L1836.7,1262.0L1837.0,1252.3L1838.3,1251.2L1839.8,1251.2L1840.0,1260.0L1840.9,1260.1L1841.1,1264.2L1842.0,1264.0L1843.0,1263.1L1843.9,1263.2L1844.8,1264.4L1845.0,1274.1L1845.8,1274.0L1847.0,1272.3L1847.5,1272.5L1847.8,1271.0L1849.0,1271.0L1849.2,1272.5L1849.7,1272.3L1849.9,1274.0L1850.9,1274.1L1851.1,1271.2L1851.9,1271.0L1852.1,1252.3L1853.2,1251.2L1854.6,1251.2L1854.9,1254.1L1855.7,1254.2L1855.9,1249.2L1857.0,1248.9L1857.2,1247.2L1857.7,1247.6L1857.9,1246.1L1859.1,1246.1L1859.3,1247.6L1859.8,1247.4L1860.0,1263.1L1860.7,1263.2L1860.9,1279.9L1862.0,1280.1L1862.1,1263.2L1862.9,1263.1L1863.1,1238.3L1863.6,1238.6L1863.9,1237.1L1865.1,1237.1L1865.2,1238.6L1865.7,1238.3L1865.9,1240.1L1866.6,1240.2L1866.8,1254.1L1867.7,1254.2L1867.9,1262.0L1868.9,1262.0L1869.1,1252.2L1870.1,1251.4L1871.0,1250.8L1874.0,1250.8L1874.0,1290.0 Z" fill="#000"/>
<path d="M586.5,1276.0H587.0V1291.0H586.5ZM590.9,1282.6H593.1V1291.0H590.9ZM593.1,1286.7H596.2V1291.0H593.1ZM605.9,1277.9H609.2V1291.0H605.9ZM612.4,1286.0H614.3V1291.0H612.4ZM617.7,1280.1H618.9V1291.0H617.7ZM618.9,1272.9H620.2V1291.0H618.9ZM620.2,1281.0H621.1V1291.0H620.2ZM652.9,1280.1H654.8V1291.0H652.9ZM657.6,1283.8H659.1V1291.0H657.6ZM673.5,1286.6H676.9V1291.0H673.5ZM676.9,1282.2H678.1V1291.0H676.9ZM682.2,1280.1H683.7V1291.0H682.2ZM683.7,1277.9H685.9V1291.0H683.7ZM685.9,1284.7H687.2V1291.0H685.9ZM689.7,1282.9H693.1V1291.0H689.7ZM693.1,1286.6H695.9V1291.0H693.1ZM724.6,1272.9H726.0V1291.0H724.6ZM733.0,1282.9H734.9V1291.0H733.0ZM779.1,1252.0H780.3V1273.5H779.1ZM780.3,1273.8H781.1V1288.5H780.3ZM801.8,1272.9H803.1V1291.0H801.8ZM811.8,1286.0H813.1V1291.0H811.8ZM816.8,1279.1H818.1V1288.5H816.8ZM822.7,1284.4H826.2V1291.0H822.7ZM959.2,1287.9H960.5V1291.0H959.2ZM640.2,1101.0L639.7,1103.0L639.2,1125.0L639.2,1200.0L638.9,1235.5L636.1,1237.0L635.8,1262.3L634.8,1263.0L634.8,1279.0L633.0,1280.0L631.1,1278.8L631.1,1272.0L628.9,1272.0L628.9,1275.4L628.0,1276.0L628.0,1291.0L647.0,1291.0L646.0,1283.5L646.0,1266.0L645.1,1265.7L645.1,1255.0L644.2,1254.8L644.2,1237.0L642.9,1236.8L642.9,1213.0L642.0,1212.8L642.0,1145.0L640.8,1140.0L640.8,1101.0ZM702.8,1290.3L702.8,1277.9L704.3,1279.0L706.5,1277.9L706.8,1269.8L707.9,1269.5L708.1,1262.0L709.0,1262.0L709.3,1264.8L710.1,1265.1L710.2,1272.9L711.1,1272.9L711.3,1281.9L712.1,1282.1L712.3,1290.3ZM748.3,1224.9L749.2,1224.9L749.2,1230.8L750.1,1231.2L750.1,1238.9L752.0,1239.1L752.0,1263.6L752.9,1263.9L753.2,1268.8L754.0,1269.0L754.2,1284.7L755.1,1285.0L755.2,1288.5L756.0,1290.3L738.6,1290.3L739.5,1288.5L739.8,1286.3L740.8,1286.0L741.1,1281.9L741.9,1281.6L742.0,1267.9L743.0,1267.9L743.1,1274.5L744.2,1274.8L744.5,1281.6L745.5,1282.9L746.8,1281.6L747.0,1264.8L747.9,1264.5L747.9,1224.9ZM757.9,1290.3L757.9,1281.9L758.8,1281.9L761.0,1286.6L762.0,1288.5L762.3,1290.3ZM784.1,1290.3L784.7,1284.7L785.3,1282.9L788.8,1282.9L789.7,1281.0L793.4,1277.3L794.0,1277.3L794.4,1279.9L795.2,1280.1L795.3,1287.9L795.9,1290.3ZM833.0,1279.1L835.8,1276.9L836.1,1286.6L837.1,1288.5L837.4,1290.3L833.0,1290.3ZM847.4,953.5L848.1,953.5L848.1,995.6L849.1,995.6L849.1,1120.0L850.0,1120.0L850.2,1256.7L851.1,1256.7L851.1,1263.9L852.2,1263.9L852.2,1275.7L853.1,1275.7L853.1,1282.9L855.1,1283.0L855.1,1288.5L856.1,1291.0L839.9,1291.0L840.8,1288.5L841.1,1285.0L843.0,1284.7L843.9,1283.5L843.9,1212.8L844.9,1212.8L844.8,1149.0L845.9,1149.0L845.9,1010.0L846.8,1010.0L846.8,953.5ZM858.9,1290.3L858.9,1283.8L859.8,1283.5L859.9,1277.3L862.0,1277.3L862.1,1286.0L862.9,1286.3L864.2,1288.5L865.1,1290.3ZM879.3,1131.5L879.8,1131.5L879.8,1160.0L880.8,1160.0L880.8,1200.0L881.0,1200.0L881.0,1221.8L881.9,1222.1L882.1,1255.8L883.0,1256.1L883.2,1269.8L884.1,1270.1L884.2,1272.0L886.6,1272.0L886.7,1263.2L888.0,1263.1L888.1,1282.6L889.0,1282.9L889.2,1284.7L891.3,1286.9L892.8,1285.0L894.7,1286.3L895.3,1288.5L896.3,1290.3L866.0,1290.3L866.9,1288.5L867.0,1279.8L867.9,1279.4L868.0,1266.0L868.8,1265.7L869.0,1262.0L869.9,1261.7L870.1,1248.0L872.0,1247.9L872.8,1246.7L872.9,1237.1L873.8,1236.8L874.0,1224.9L874.8,1224.6L875.0,1215.9L875.9,1215.6L876.0,1210.9L876.9,1210.6L876.9,1200.0L877.1,1200.0L877.1,1173.7L878.2,1173.7L878.2,1136.7L878.9,1136.7L878.9,1131.5ZM898.8,1290.3L898.9,1281.6L900.0,1281.7L900.6,1282.9L901.6,1282.7L902.2,1281.6L903.1,1281.7L903.3,1286.0L904.0,1286.3L904.7,1288.5L905.3,1290.3ZM906.7,1290.3L906.9,1282.2L908.1,1282.2L908.3,1286.6L909.3,1287.2L910.0,1290.3ZM921.0,881.7L921.9,881.7L921.9,1053.8L923.0,1053.8L923.0,1106.0L925.2,1106.0L925.2,1143.8L926.3,1143.8L926.2,1200.0L926.2,1211.5L927.1,1211.8L927.1,1260.7L928.1,1261.1L928.1,1272.6L930.9,1272.6L931.0,1270.1L931.9,1269.9L932.1,1276.0L933.1,1277.6L934.9,1277.9L935.5,1278.8L936.9,1277.9L937.1,1288.5L938.0,1290.3L911.6,1290.3L912.5,1288.5L912.8,1285.0L914.0,1282.9L915.9,1281.9L916.9,1281.6L916.9,1248.0L918.0,1247.7L918.0,1208.1L919.0,1207.8L919.0,1200.0L919.2,1200.0L919.2,1154.3L920.1,1154.3L920.1,1078.7L921.0,1078.7ZM912.5,1290.3L912.8,1286.3L913.7,1284.7L914.0,1282.9L915.6,1282.9L916.5,1281.6L916.8,1248.0L917.8,1247.7L917.9,1208.1L918.7,1207.8L919.0,1200.0L920.0,1200.0L920.0,1290.3ZM945.8,1290.3L946.8,1288.5L947.1,1286.0L948.9,1286.0L949.6,1286.9L950.8,1286.6L951.7,1285.4L951.9,1275.1L954.9,1275.1L955.0,1288.5L955.8,1290.3ZM965.8,1290.3L966.1,1284.7L967.0,1284.7L967.2,1288.5L967.9,1290.3ZM970.7,1290.3L971.4,1286.0L972.0,1285.7L972.1,1278.8L973.2,1279.8L975.1,1280.7L976.0,1282.9L977.9,1283.2L978.5,1284.7L979.2,1285.0L979.3,1288.5L980.1,1290.3ZM984.8,1290.3L984.9,1271.0L985.7,1270.7L985.8,1262.9L987.1,1262.9L987.3,1277.9L988.0,1278.2L988.2,1286.0L989.1,1286.9L991.6,1286.9L991.7,1275.1L993.1,1275.1L993.2,1282.9L995.7,1283.0L996.0,1281.0L996.9,1280.9L997.1,1290.3ZM1000.7,1290.3L1000.8,1277.9L1002.2,1277.9L1002.4,1279.9L1005.0,1279.9L1005.2,1288.5L1006.0,1290.3ZM1018.9,857.2L1019.7,857.2L1020.0,930.0L1020.7,960.0L1020.7,1044.7L1022.2,1044.7L1023.7,1078.0L1026.0,1078.0L1026.0,1177.8L1027.1,1177.8L1027.2,1200.0L1027.2,1256.4L1028.7,1257.9L1030.9,1256.4L1032.0,1256.1L1032.1,1284.7L1033.1,1285.0L1033.2,1288.5L1034.0,1290.3L1007.2,1290.3L1007.8,1288.5L1008.1,1285.0L1008.9,1284.7L1009.1,1275.3L1010.0,1275.1L1010.6,1275.9L1011.9,1275.7L1012.8,1274.5L1012.9,1263.9L1013.7,1263.6L1013.9,1238.0L1014.9,1237.7L1015.0,1212.1L1015.9,1210.9L1016.9,1210.6L1016.9,1200.0L1017.1,1200.0L1017.1,1147.5L1018.0,1147.5L1018.0,1035.6L1018.9,1035.6ZM1058.1,1290.3L1058.3,1282.9L1058.9,1282.6L1059.1,1265.7L1059.9,1265.4L1060.0,1244.9L1061.0,1244.9L1061.1,1262.6L1062.1,1262.9L1062.2,1281.6L1063.0,1281.9L1063.2,1288.5L1063.9,1290.3ZM1065.8,1290.3L1066.0,1277.3L1066.7,1276.9L1067.0,1275.1L1068.9,1273.8L1069.2,1281.6L1070.2,1281.9L1070.3,1288.5L1071.1,1290.3ZM1072.8,1290.3L1073.0,1284.1L1073.9,1283.8L1074.1,1276.0L1075.1,1275.9L1075.3,1282.9L1076.1,1283.2L1076.3,1288.5L1077.0,1290.3ZM1080.4,1290.3L1080.6,1286.6L1081.4,1286.3L1081.7,1282.9L1082.3,1277.9L1082.9,1277.6L1083.1,1263.9L1084.0,1263.9L1084.2,1288.5L1085.1,1290.3ZM1090.8,1290.3L1091.0,1279.8L1091.8,1279.4L1092.0,1265.9L1093.0,1265.9L1093.2,1278.8L1094.1,1279.8L1096.6,1279.8L1096.9,1276.0L1097.9,1275.7L1098.2,1274.0L1099.1,1274.0L1099.4,1274.8L1100.9,1275.1L1101.1,1276.9L1103.8,1277.1L1104.7,1277.9L1105.0,1288.5L1105.7,1290.3ZM1108.3,1290.3L1108.8,1283.8L1109.7,1283.5L1109.9,1276.9L1113.0,1276.9L1113.1,1285.9L1113.9,1286.1L1114.2,1288.5L1115.0,1290.3ZM1117.7,1290.3L1117.9,1281.9L1118.8,1281.6L1118.9,1275.9L1120.0,1275.9L1120.2,1277.9L1120.9,1278.2L1121.1,1288.5L1121.9,1290.3ZM1151.9,1188.9L1153.0,1188.9L1153.0,1200.0L1153.1,1200.0L1153.1,1234.6L1154.0,1234.9L1154.0,1272.6L1154.9,1272.9L1154.9,1281.6L1156.0,1281.9L1156.0,1286.0L1157.1,1286.3L1158.0,1288.5L1159.0,1290.3L1148.7,1290.3L1149.0,1288.5L1149.9,1287.2L1149.9,1222.1L1150.9,1221.8L1150.9,1201.9L1151.8,1201.6L1151.8,1200.0L1150.9,1200.0L1151.9,1200.0ZM1163.6,1290.3L1164.0,1288.5L1164.1,1279.0L1164.9,1279.0L1165.1,1280.9L1166.0,1281.0L1166.1,1288.5L1167.1,1290.3ZM1183.1,1150.7L1184.2,1150.7L1184.2,1200.0L1184.2,1200.0L1184.2,1210.6L1185.0,1210.9L1185.0,1234.6L1187.9,1234.8L1188.1,1229.9L1188.9,1229.6L1189.1,1224.0L1190.1,1223.1L1191.1,1222.9L1191.2,1230.5L1192.1,1230.8L1192.3,1253.0L1193.1,1253.1L1193.2,1268.8L1194.2,1269.8L1197.0,1269.9L1197.2,1275.9L1198.0,1276.0L1198.2,1279.9L1200.7,1279.9L1201.0,1279.0L1202.0,1279.0L1202.1,1286.0L1203.0,1286.3L1203.2,1288.5L1204.1,1290.3L1175.2,1290.3L1175.9,1288.5L1176.1,1281.9L1176.9,1281.6L1177.0,1258.9L1177.9,1258.6L1178.0,1245.2L1179.2,1243.9L1179.8,1243.6L1179.8,1230.8L1181.1,1230.5L1181.1,1200.0L1181.1,1200.0L1181.1,1196.6L1182.2,1196.6L1182.2,1185.7L1183.1,1185.7ZM1212.7,1290.3L1213.0,1282.9L1213.8,1282.7L1214.0,1279.9L1215.7,1279.9L1216.0,1279.0L1216.9,1279.0L1217.1,1288.5L1217.9,1290.3ZM1224.6,1290.3L1224.8,1286.0L1226.0,1286.0L1226.3,1288.5L1226.9,1290.3ZM1230.3,1290.3L1230.6,1287.9L1230.9,1284.1L1231.9,1284.1L1232.1,1287.5L1232.8,1288.5L1233.7,1290.3ZM1249.8,1290.3L1250.0,1284.1L1250.7,1283.8L1250.9,1275.1L1252.0,1275.1L1252.1,1288.5L1252.8,1290.3ZM1261.1,1247.0L1261.9,1247.0L1262.1,1250.8L1263.1,1251.0L1263.2,1260.7L1264.0,1261.1L1264.2,1287.5L1264.9,1288.5L1265.9,1290.3L1256.8,1290.3L1258.4,1288.5L1258.7,1285.0L1259.8,1284.7L1260.1,1281.0L1260.9,1280.7ZM1285.8,1290.3L1286.0,1283.2L1287.0,1283.1L1287.2,1286.0L1288.0,1286.3L1288.3,1288.5L1289.2,1290.3ZM1292.8,1290.3L1293.0,1284.1L1294.8,1284.1L1295.1,1286.9L1296.1,1287.2L1296.4,1288.5L1297.3,1290.3ZM1300.7,1290.3L1300.9,1270.1L1301.7,1269.8L1301.9,1265.1L1303.1,1265.1L1303.2,1272.9L1304.0,1273.0L1304.2,1281.0L1305.1,1281.1L1305.3,1287.9L1306.0,1290.3ZM1308.5,1290.3L1308.8,1287.9L1309.0,1282.9L1310.7,1282.9L1311.7,1281.6L1312.0,1268.0L1313.0,1268.0L1313.2,1272.9L1315.1,1273.0L1315.3,1281.6L1316.1,1282.9L1318.0,1283.0L1318.2,1288.5L1318.8,1290.3ZM1320.5,1290.3L1320.7,1288.5L1321.0,1284.0L1322.1,1284.0L1322.2,1288.5L1322.9,1290.3ZM1326.3,1290.3L1326.6,1288.5L1326.9,1282.9L1327.5,1281.9L1328.5,1283.1L1329.2,1283.2L1329.4,1288.5L1330.0,1290.3ZM1332.8,1290.3L1333.1,1286.0L1333.9,1285.7L1334.1,1281.0L1334.8,1280.7L1335.0,1272.0L1336.1,1272.0L1336.3,1279.8L1337.2,1279.9L1337.4,1284.7L1338.1,1285.0L1338.4,1288.5L1339.4,1290.3ZM1370.1,1239.9L1371.9,1239.9L1372.1,1283.8L1373.1,1285.0L1374.0,1284.1L1374.9,1282.2L1375.2,1281.6L1376.0,1281.7L1376.2,1288.5L1377.1,1290.3L1366.8,1290.3L1367.8,1288.5L1367.9,1266.0L1368.7,1265.9L1368.9,1260.1L1369.8,1259.8ZM1390.8,1290.3L1391.1,1288.5L1392.1,1286.3L1393.0,1286.6L1393.9,1286.2L1394.7,1285.0L1395.0,1272.0L1396.7,1271.8L1397.0,1267.9L1398.0,1266.0L1398.9,1265.7L1399.1,1273.5L1400.3,1275.1L1401.6,1273.5L1401.7,1267.0L1403.0,1266.9L1403.1,1273.8L1404.1,1274.1L1404.2,1281.6L1405.1,1281.9L1405.3,1286.6L1406.1,1287.2L1406.4,1288.5L1407.3,1290.3ZM1433.8,1290.3L1434.0,1280.1L1435.2,1279.9L1435.4,1288.5L1436.3,1290.3ZM1445.0,1210.0L1446.3,1210.0L1446.4,1229.9L1447.2,1230.1L1447.4,1265.7L1450.0,1265.9L1450.2,1272.6L1451.2,1272.9L1451.4,1276.6L1452.8,1276.9L1453.1,1283.8L1454.0,1284.1L1454.4,1288.5L1455.3,1290.3L1441.3,1290.3L1441.9,1288.5L1442.1,1278.8L1443.0,1278.5L1443.1,1261.1L1443.9,1260.7L1444.1,1251.7L1444.8,1251.4ZM1457.5,1290.3L1457.8,1288.5L1458.1,1282.2L1459.0,1282.1L1459.3,1283.8L1460.3,1285.0L1461.5,1284.7L1462.8,1283.8L1463.1,1272.9L1465.0,1272.9L1465.1,1278.8L1466.0,1279.1L1466.4,1281.6L1467.1,1282.9L1468.1,1284.4L1470.0,1284.7L1470.0,1290.3ZM1460.0,1284.7L1461.9,1284.7L1462.8,1283.5L1463.0,1272.9L1465.0,1272.9L1465.2,1278.8L1466.1,1280.1L1466.2,1281.6L1467.2,1282.9L1468.1,1284.7L1471.5,1284.7L1472.8,1283.5L1473.0,1275.1L1474.0,1275.0L1474.2,1285.7L1475.0,1286.0L1475.9,1287.9L1477.1,1290.3L1460.0,1290.3ZM1483.7,1290.3L1484.0,1287.2L1484.9,1286.3L1486.8,1284.7L1487.1,1281.0L1488.3,1279.9L1490.8,1279.9L1491.2,1280.9L1494.0,1281.0L1494.1,1282.9L1495.0,1283.2L1495.2,1288.5L1496.1,1290.3ZM1497.4,1290.3L1497.7,1288.5L1497.9,1286.0L1498.9,1286.0L1499.1,1288.5L1499.9,1290.3ZM1504.5,1290.3L1504.9,1288.5L1505.0,1281.9L1505.8,1281.6L1506.0,1271.0L1507.0,1270.9L1507.2,1281.6L1508.0,1281.9L1508.9,1282.9L1509.1,1288.5L1509.8,1290.3ZM1514.5,1290.3L1514.8,1288.5L1515.0,1279.1L1515.9,1278.8L1516.1,1277.1L1517.0,1276.9L1517.2,1283.8L1517.9,1284.1L1518.3,1286.0L1519.8,1287.2L1520.1,1288.5L1521.1,1290.3ZM1524.8,1290.3L1525.0,1272.0L1526.0,1271.8L1526.2,1282.9L1528.8,1282.9L1529.0,1277.9L1529.9,1277.6L1530.1,1260.1L1531.7,1260.0L1532.6,1258.9L1532.9,1244.2L1534.0,1244.1L1534.2,1256.8L1536.0,1257.0L1536.1,1269.8L1537.3,1270.7L1539.8,1270.9L1540.7,1272.0L1541.6,1271.7L1542.9,1270.7L1543.1,1257.0L1543.8,1256.8L1544.0,1242.1L1545.0,1242.1L1545.2,1257.9L1546.0,1258.3L1546.2,1267.0L1547.2,1267.9L1549.7,1268.0L1550.7,1269.2L1551.6,1269.9L1552.8,1269.8L1553.8,1268.8L1554.0,1230.1L1555.0,1229.9L1555.2,1262.9L1556.0,1263.2L1556.1,1288.5L1556.9,1290.3ZM1558.1,1290.3L1558.8,1288.5L1558.9,1286.9L1559.7,1286.8L1560.9,1287.9L1562.2,1290.3ZM1565.8,1290.3L1566.0,1281.0L1567.9,1280.9L1568.1,1288.5L1568.7,1290.3ZM1584.8,1290.3L1585.0,1286.0L1586.1,1285.9L1586.3,1288.5L1587.1,1290.3ZM1591.9,1253.0L1592.9,1253.0L1593.2,1256.7L1594.0,1257.0L1594.2,1259.8L1594.9,1260.7L1596.8,1260.7L1597.0,1254.1L1598.0,1254.0L1598.2,1271.7L1599.0,1272.0L1599.2,1279.8L1600.0,1280.1L1600.2,1288.5L1601.2,1290.3L1588.4,1290.3L1589.6,1288.5L1589.9,1281.9L1590.9,1281.6L1591.1,1272.0L1591.8,1271.7ZM1604.6,1290.3L1605.8,1288.5L1607.1,1286.9L1608.9,1286.8L1609.1,1288.5L1610.2,1290.3ZM1617.7,1290.3L1617.9,1281.0L1619.1,1280.9L1619.3,1288.5L1620.2,1290.3ZM1628.6,1290.3L1629.5,1286.0L1629.8,1277.3L1631.1,1277.1L1631.2,1286.6L1632.3,1288.5L1633.2,1290.3ZM1635.4,1290.3L1635.9,1285.0L1637.9,1284.9L1638.2,1288.5L1639.2,1290.3ZM1643.5,1290.3L1644.5,1287.2L1645.1,1286.0L1646.0,1286.0L1646.3,1288.5L1647.3,1290.3ZM1669.1,1290.3L1669.7,1286.9L1672.8,1286.8L1673.4,1288.5L1674.4,1290.3ZM1688.4,1290.3L1688.7,1288.5L1688.9,1286.0L1690.0,1285.9L1690.2,1288.5L1690.9,1290.3ZM1716.1,1290.3L1716.8,1288.5L1717.1,1286.0L1717.9,1285.7L1718.0,1282.9L1718.9,1282.9L1719.1,1288.5L1719.9,1290.3ZM1739.8,1290.3L1740.1,1287.9L1742.3,1287.9L1742.9,1288.8L1743.9,1288.8L1744.8,1287.5L1745.1,1285.0L1746.7,1284.7L1747.9,1283.2L1748.8,1282.9L1749.0,1288.5L1749.8,1290.3ZM1765.0,1290.3L1765.9,1288.5L1766.1,1286.0L1766.9,1285.7L1767.1,1282.9L1772.0,1282.9L1772.2,1288.5L1773.1,1290.3ZM1826.8,1290.3L1827.1,1287.2L1828.6,1286.9L1829.3,1286.0L1831.1,1285.9L1831.4,1286.9L1832.7,1286.9L1833.0,1283.8L1834.2,1283.8L1834.5,1284.7L1835.8,1284.7L1836.1,1282.9L1837.0,1282.9L1838.0,1284.1L1838.3,1286.9L1839.8,1286.9L1840.5,1288.5L1841.4,1290.3ZM1821.8,1290.3L1822.1,1286.0L1823.0,1286.0L1823.3,1287.5L1824.3,1288.5L1824.6,1290.3ZM1842.6,1290.3L1843.0,1286.9L1843.9,1286.9L1844.5,1288.5L1845.1,1290.3ZM1846.7,1290.3L1847.0,1286.9L1847.8,1286.6L1847.9,1277.9L1849.1,1277.9L1849.2,1287.9L1849.8,1288.5L1850.1,1290.3ZM1853.9,1290.3L1854.0,1285.0L1855.0,1284.9L1855.2,1287.9L1856.0,1288.5L1856.4,1290.3ZM1857.9,1290.3L1858.8,1288.5L1859.2,1286.9L1860.7,1286.6L1861.3,1285.9L1862.9,1285.9L1863.2,1286.9L1864.5,1286.9L1864.8,1284.1L1865.7,1283.8L1866.3,1284.7L1867.6,1284.7L1868.2,1282.9L1868.8,1282.6L1869.0,1281.0L1870.1,1280.9L1870.2,1285.9L1871.1,1286.0L1871.1,1290.3ZM173.0,1290.4L174.0,1287.1L177.1,1287.0L177.4,1289.0L178.3,1290.4ZM219.8,1290.4L220.7,1289.0L221.0,1283.0L222.1,1282.9L222.4,1286.8L223.2,1287.4L223.5,1290.4ZM230.7,1290.4L231.6,1288.0L233.1,1288.3L234.1,1290.4ZM243.7,1290.4L244.7,1288.6L245.3,1287.1L245.9,1288.3L246.9,1289.0L248.1,1288.6L248.7,1287.4L249.0,1285.2L250.9,1284.8L251.8,1284.3L252.1,1286.8L253.1,1287.4L253.4,1290.4ZM250.0,1290.5L250.0,1284.3L251.9,1284.4L252.2,1287.4L253.1,1290.5ZM269.9,1290.5L270.1,1286.8L270.9,1286.5L271.1,1283.0L275.9,1282.9L276.0,1280.9L276.9,1280.9L277.1,1283.7L278.0,1284.0L278.3,1287.4L279.2,1288.6L279.9,1290.5ZM281.2,1290.5L281.9,1288.6L282.1,1283.0L283.0,1282.9L283.3,1287.4L284.1,1288.6L284.6,1290.5ZM287.7,1290.5L288.9,1288.6L289.9,1287.4L290.2,1284.9L291.9,1284.9L292.2,1288.6L293.0,1290.5ZM301.7,1290.5L302.0,1287.4L302.8,1286.5L303.0,1266.2L304.2,1266.1L304.5,1272.8L305.1,1273.1L305.3,1280.5L306.1,1280.9L306.3,1287.4L307.0,1289.0L307.6,1290.5ZM309.8,1290.5L311.1,1288.6L312.0,1287.4L312.2,1284.0L312.9,1283.7L313.9,1282.7L314.2,1287.4L315.1,1289.0L315.4,1290.5ZM316.7,1290.5L317.6,1288.6L317.9,1284.9L318.8,1284.8L319.2,1287.4L320.1,1289.0L320.7,1290.5ZM322.0,1290.5L322.6,1287.4L322.9,1283.0L323.8,1282.9L324.1,1287.4L325.1,1288.6L326.3,1290.5ZM329.8,1290.5L330.7,1289.0L331.0,1283.0L331.9,1282.9L332.2,1288.6L333.2,1290.5ZM334.4,1290.5L334.9,1287.1L337.2,1286.8L338.2,1285.8L339.1,1286.8L340.3,1286.7L341.6,1285.2L343.5,1284.8L344.7,1283.7L345.0,1280.9L346.0,1280.9L346.3,1285.8L347.2,1286.8L348.8,1287.1L349.2,1290.5ZM355.6,1290.5L355.9,1288.6L356.9,1283.8L357.2,1279.0L358.1,1278.1L360.0,1279.0L360.3,1286.2L360.9,1287.4L361.2,1290.5ZM376.8,1290.5L377.8,1289.0L378.1,1285.8L379.0,1285.5L379.3,1282.7L380.2,1283.7L381.5,1284.9L383.1,1285.0L383.4,1289.0L384.6,1290.5ZM385.9,1290.5L386.8,1289.0L387.1,1287.4L387.9,1286.5L388.0,1274.9L388.8,1274.6L389.0,1271.8L390.0,1271.8L390.2,1289.0L391.2,1290.5ZM396.1,1290.5L397.7,1289.0L398.3,1288.0L399.6,1286.9L400.2,1289.0L400.5,1290.5ZM402.4,1290.5L402.9,1287.4L403.0,1279.9L404.1,1279.8L404.4,1286.8L405.2,1289.0L405.5,1290.5ZM428.2,1290.5L428.8,1289.0L429.0,1283.0L430.1,1282.9L430.4,1284.9L431.3,1287.4L432.6,1289.0L433.2,1290.5ZM436.9,1290.5L437.9,1287.4L438.2,1284.9L439.1,1284.0L440.1,1284.9L440.4,1289.0L441.0,1290.5ZM469.3,1290.5L469.8,1287.4L470.0,1283.0L470.9,1282.9L471.2,1286.8L473.7,1286.8L474.6,1285.8L475.0,1283.0L475.9,1282.9L476.2,1284.0L477.0,1284.9L477.3,1289.0L478.4,1290.5ZM470.0,1290.5L470.0,1283.0L470.7,1283.2L470.9,1286.8L473.7,1286.9L474.9,1285.5L475.1,1283.0L475.9,1282.9L476.2,1284.9L477.0,1285.2L477.2,1288.6L478.1,1290.5ZM489.6,1290.5L489.8,1279.9L491.8,1279.8L492.1,1282.1L493.4,1283.3L494.6,1284.9L495.5,1284.0L496.0,1281.9L496.8,1281.9L497.1,1283.0L498.3,1284.8L499.9,1284.0L500.8,1283.0L501.2,1286.2L502.7,1286.5L503.0,1289.0L504.0,1290.5ZM505.5,1290.5L506.0,1286.2L507.1,1286.0L507.4,1288.6L508.3,1290.5ZM509.6,1290.5L510.2,1287.1L511.9,1286.9L512.4,1288.6L513.3,1290.5ZM514.5,1290.5L514.9,1284.9L516.0,1284.8L516.2,1288.6L517.4,1290.5ZM519.7,1290.5L520.0,1280.9L521.0,1280.7L521.2,1283.0L522.0,1283.3L522.2,1288.6L523.3,1290.5ZM531.4,1290.5L532.0,1287.4L532.9,1287.3L533.2,1289.0L534.2,1290.5ZM542.6,1290.5L542.9,1276.8L544.8,1276.7L545.4,1275.9L547.9,1275.7L548.1,1274.0L549.0,1273.9L549.3,1276.8L551.0,1276.9L551.9,1278.1L552.2,1283.7L553.0,1284.0L553.2,1289.0L554.1,1290.5ZM557.5,1290.5L557.9,1287.4L558.2,1284.0L559.7,1282.1L560.3,1279.6L561.0,1278.1L561.3,1276.8L562.1,1276.8L562.2,1286.8L563.1,1288.0L564.1,1290.5ZM565.6,1290.5L566.0,1276.2L567.1,1276.1L567.2,1283.0L567.9,1283.3L568.1,1289.0L569.1,1290.5ZM583.7,1290.5L584.0,1279.0L585.0,1278.7L585.1,1276.2L587.1,1276.1L587.3,1289.0L588.4,1290.5Z" fill="#fff"/>
<g fill="#000">
<rect x="148" y="21" width="1727" height="7"/>
<rect x="145" y="24" width="7" height="1418"/>
<rect x="1871" y="24" width="6" height="1418"/>
<rect x="148" y="1411" width="1727" height="7"/>
<rect x="203" y="1414" width="6" height="15"/>
<rect x="261" y="1414" width="6" height="28"/>
<rect x="318" y="1414" width="7" height="15"/>
<rect x="376" y="1414" width="6" height="28"/>
<rect x="434" y="1414" width="6" height="15"/>
<rect x="491" y="1414" width="7" height="28"/>
<rect x="549" y="1414" width="6" height="15"/>
<rect x="606" y="1414" width="7" height="28"/>
<rect x="663" y="1414" width="7" height="15"/>
<rect x="721" y="1414" width="6" height="28"/>
<rect x="778" y="1414" width="7" height="15"/>
<rect x="836" y="1414" width="6" height="28"/>
<rect x="893" y="1414" width="7" height="15"/>
<rect x="950" y="1414" width="7" height="28"/>
<rect x="1009" y="1414" width="6" height="15"/>
<rect x="1066" y="1414" width="7" height="28"/>
<rect x="1123" y="1414" width="7" height="15"/>
<rect x="1181" y="1414" width="6" height="28"/>
<rect x="1238" y="1414" width="7" height="15"/>
<rect x="1296" y="1414" width="6" height="28"/>
<rect x="1353" y="1414" width="7" height="15"/>
<rect x="1410" y="1414" width="7" height="28"/>
<rect x="1468" y="1414" width="6" height="15"/>
<rect x="1525" y="1414" width="7" height="28"/>
<rect x="1583" y="1414" width="7" height="15"/>
<rect x="1641" y="1414" width="6" height="28"/>
<rect x="1698" y="1414" width="7" height="15"/>
<rect x="1756" y="1414" width="6" height="28"/>
<rect x="1813" y="1414" width="7" height="15"/>
</g>
<text class="tk" x="148.5" y="1507">5</text>
<text class="tk" x="263.5" y="1507">10</text>
<text class="tk" x="378.6" y="1507">15</text>
<text class="tk" x="493.6" y="1507">20</text>
<text class="tk" x="608.6" y="1507">25</text>
<text class="tk" x="723.7" y="1507">30</text>
<text class="tk" x="838.7" y="1507">35</text>
<text class="tk" x="953.7" y="1507">40</text>
<text class="tk" x="1068.8" y="1507">45</text>
<text class="tk" x="1183.8" y="1507">50</text>
<text class="tk" x="1298.8" y="1507">55</text>
<text class="tk" x="1413.9" y="1507">60</text>
<text class="tk" x="1528.9" y="1507">65</text>
<text class="tk" x="1643.9" y="1507">70</text>
<text class="tk" x="1759.0" y="1507">75</text>
<text class="tk" x="1874.0" y="1507">80</text>
<text y="1617" style="font-size:72.6px"><tspan x="845.9">2</tspan><tspan class="sy" x="886.3" y="1616.8" textLength="39" lengthAdjust="spacingAndGlyphs" style="font-size:70.2px">θ</tspan><tspan class="sy" x="924.6" y="1617" style="font-size:70.6px">(degrees)</tspan></text>
<text transform="translate(69,873.8) rotate(-90)" style="font-size:72px">Intensity(a.u.)</text>
<rect x="1507" y="146" width="28" height="28" fill="#00ffff"/>
<polygon points="1506,266 1535,266 1519.7,290" fill="#ff0000"/>
<polygon points="1504.6,399 1520,383.6 1535.4,399 1520,414.4" fill="#00ff00"/>
<circle cx="1524.5" cy="519.5" r="14.1" fill="#800000" shape-rendering="geometricPrecision"/>
<polygon points="1507,642 1540,642 1523.5,613" fill="#0000ff"/>
<polygon points="631.6,918 647,902.6 662.4,918 647,933.4" fill="#00ff00"/>
<polygon points="832.6,566 848,550.6 863.4,566 848,581.4" fill="#00ff00"/>
<polygon points="907.6,461 923,445.6 938.4,461 923,476.4" fill="#00ff00"/>
<polygon points="1003.6,705.5 1019,690.1 1034.4,705.5 1019,720.9" fill="#00ff00"/>
<polygon points="1251.6,1175 1267,1159.6 1282.4,1175 1267,1190.4" fill="#00ff00"/>
<polygon points="1357.6,1176 1373,1160.6 1388.4,1176 1373,1191.4" fill="#00ff00"/>
<polygon points="1536.6,1172 1552,1156.6 1567.4,1172 1552,1187.4" fill="#00ff00"/>
<rect x="746" y="1128" width="28" height="28" fill="#00ffff"/>
<rect x="869" y="999" width="28" height="28" fill="#00ffff"/>
<rect x="1134" y="1060" width="28" height="28" fill="#00ffff"/>
<rect x="1431" y="1151" width="28" height="28" fill="#00ffff"/>
<circle cx="759.5" cy="1080.5" r="14.1" fill="#800000" shape-rendering="geometricPrecision"/>
<circle cx="1065.5" cy="1164.9" r="14.1" fill="#800000" shape-rendering="geometricPrecision"/>
<circle cx="1602" cy="1168" r="14.1" fill="#800000" shape-rendering="geometricPrecision"/>
<polygon points="870.2,945 899.2,945 883.9,969" fill="#ff0000"/>
<polygon points="1395,1196 1424,1196 1408.7,1220" fill="#ff0000"/>
<polygon points="1030.9,823 1063.9,823 1047.4,794" fill="#0000ff"/>
<polygon points="1169.9,1061 1202.9,1061 1186.4,1032" fill="#0000ff"/>
<text class="lg" x="1575.7" y="174">CuAlO<tspan class="sub" dy="15.5">2</tspan></text>
<text class="lg" x="1593.5" y="294.5">Cu<tspan class="sub" dy="10.5">2</tspan><tspan dy="-10.5">O</tspan></text>
<text class="lg" y="413"><tspan class="sy" x="1592.3" textLength="39.5" lengthAdjust="spacingAndGlyphs">α</tspan><tspan x="1627.7">-Al</tspan><tspan class="sub" dy="15.5">2</tspan><tspan dy="-15.5">O</tspan><tspan class="sub" dy="15.5">3</tspan></text>
<text class="lg" y="533.5"><tspan class="sy" x="1603.2" textLength="30" lengthAdjust="spacingAndGlyphs">γ</tspan><tspan x="1627.7">-Al</tspan><tspan class="sub" dy="15.5">2</tspan><tspan dy="-15.5">O</tspan><tspan class="sub" dy="15.5">3</tspan></text>
<text class="lg" x="1615" y="642.5">Cu</text>
</svg>
</body></html>
